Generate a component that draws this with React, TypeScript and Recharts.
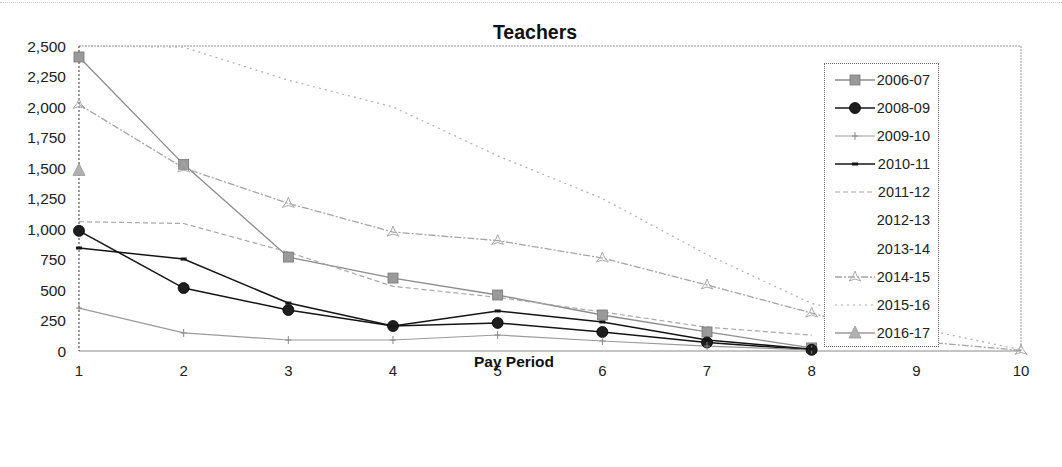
import React from "react";
import { LineChart, Line, XAxis, YAxis, ReferenceLine } from "recharts";

// values
const periods = [1, 2, 3, 4, 5, 6, 7, 8, 9, 10];
const yTicks = [0, 250, 500, 750, 1000, 1250, 1500, 1750, 2000, 2250, 2500];

const s2006 = [2410, 1530, 770, 598, 459, 295, 156, 25, null, null];
const s2008 = [985, 516, 336, 205, 230, 156, 70, 10, null, null];
const s2009 = [352, 148, 90, 90, 131, 82, 40, 10, null, null];
const s2010 = [844, 754, 393, 205, 328, 238, 90, 15, null, null];
const s2011 = [1060, 1045, 810, 530, 440, 320, 195, 130, null, null];
const s2014 = [2020, 1500, 1210, 975, 905, 762, 541, 311, 80, 5];
const s2015 = [2500, 2490, 2220, 2000, 1600, 1250, 790, 390, 190, 10];
const s2016 = [1480, null, null, null, null, null, null, null, null, null];

const legendNames = ["2006-07", "2008-09", "2009-10", "2010-11", "2011-12", "2012-13", "2013-14", "2014-15", "2015-16", "2016-17"];

type Marker = "square" | "circle" | "plus" | "dash" | "star" | "triangle" | "none";

interface Series { key: string; name: string; values: (number | null)[]; stroke: string; width: number; dash?: string; marker: Marker; mfill: string; }

const series: Series[] = [
    { key: "s2006", name: "2006-07", values: s2006, stroke: "#8c8c8c", width: 1.3, marker: "square", mfill: "#9a9a9a" },
    { key: "s2008", name: "2008-09", values: s2008, stroke: "#151515", width: 1.5, marker: "circle", mfill: "#1e1e1e" },
    { key: "s2009", name: "2009-10", values: s2009, stroke: "#9a9a9a", width: 1.2, marker: "plus", mfill: "#888" },
    { key: "s2010", name: "2010-11", values: s2010, stroke: "#141414", width: 1.5, marker: "dash", mfill: "#141414" },
    { key: "s2011", name: "2011-12", values: s2011, stroke: "#a8a8a8", width: 1.2, dash: "5 3", marker: "none", mfill: "#aaa" },
    { key: "s2014", name: "2014-15", values: s2014, stroke: "#a5a5a5", width: 1.3, dash: "7 2 2 2", marker: "star", mfill: "#aaa" },
    { key: "s2015", name: "2015-16", values: s2015, stroke: "#b0b0b0", width: 1.2, dash: "2 4", marker: "none", mfill: "#aaa" },
    { key: "s2016", name: "2016-17", values: s2016, stroke: "#9a9a9a", width: 1.3, marker: "triangle", mfill: "#b0b0b0" },
];

const rows = periods.map((p, i) => {
    const r: any = { period: p };
    series.forEach((s) => { r[s.key] = s.values[i]; });
    return r;
});

function drawMarker(kind: Marker, cx: number, cy: number, fill: string, stroke: string) {
    switch (kind) {
        case "square": return <rect x={cx - 5} y={cy - 5} width={10} height={10} fill={fill} stroke="#777" strokeWidth={0.8} />;
        case "circle": return <circle cx={cx} cy={cy} r={5.5} fill={fill} stroke="#000" strokeWidth={0.8} />;
        case "plus": return <g stroke={fill} strokeWidth={1}><line x1={cx} y1={cy - 4} x2={cx} y2={cy + 4} /><line x1={cx - 3} y1={cy} x2={cx + 3} y2={cy} /></g>;
        case "dash": return <rect x={cx - 3} y={cy - 1.5} width={6} height={3} fill={fill} />;
        case "star": return <path d={`M${cx},${cy - 6} L${cx + 2},${cy - 1} L${cx + 6},${cy + 4} L${cx},${cy + 2} L${cx - 6},${cy + 4} L${cx - 2},${cy - 1} Z`} fill="none" stroke={fill} strokeWidth={1} />;
        case "triangle": return <path d={`M${cx},${cy - 7} L${cx + 6},${cy + 5} L${cx - 6},${cy + 5} Z`} fill={fill} stroke="#999" strokeWidth={0.8} />;
        default: return null;
    }
}

const font = "'Liberation Sans', Arial, sans-serif";

function LegendBox() {
    return (
        <div style={{ position: "absolute", left: 824, top: 63, width: 115, height: 284, background: "#fff", border: "1px dotted #666", boxSizing: "border-box", paddingTop: 2, fontFamily: font, fontSize: 14.5, color: "#222" }}>
            {legendNames.map((n) => {
                const s = series.find((x) => x.name === n);
                return (
                    <div key={n} style={{ height: 28.1, position: "relative" }}>
                        {s && (
                            <svg width={44} height={28} style={{ position: "absolute", left: 8, top: 0 }}>
                                <line x1={2} y1={14} x2={42} y2={14} stroke={s.stroke} strokeWidth={s.width} strokeDasharray={s.dash} />
                                {drawMarker(s.marker, 22, 14, s.mfill, s.stroke)}
                            </svg>
                        )}
                        <span style={{ position: "absolute", right: 8, top: 5, lineHeight: "18px" }}>{n}</span>
                    </div>
                );
            })}
        </div>
    );
}

export default function App() {
    return (
        <div style={{ position: "absolute", left: 0, top: 0, width: 1062, height: 467, background: "#fff", fontFamily: font }}>
            <div style={{ position: "absolute", left: 0, top: 2, width: 1062, borderTop: "1px dotted #ccc" }} />
            <LineChart width={1062} height={467} data={rows} margin={{ top: 46, right: 41, left: 0, bottom: 86 }}>
                <XAxis type="number" dataKey="period" domain={[1, 10]} ticks={periods} axisLine={{ stroke: "#888" }} tickLine={false} tickSize={6} tickMargin={8} height={30} tick={{ fontSize: 15, fill: "#222", fontFamily: font }} />
                <YAxis type="number" domain={[0, 2500]} ticks={yTicks} width={79} axisLine={{ stroke: "#333", strokeDasharray: "2 2" }} tickLine={false} tickSize={6} tickMargin={7} tick={{ fontSize: 15.5, fill: "#222", fontFamily: font }} tickFormatter={(v: number) => v.toLocaleString("en-US")} />
                <ReferenceLine y={2500} stroke="#999" strokeDasharray="2 1" />
                <ReferenceLine x={10} stroke="#999" strokeDasharray="2 1" />
                {series.map((s) => (
                    <Line key={s.key} type="linear" dataKey={s.key} name={s.name} stroke={s.stroke} strokeWidth={s.width} strokeDasharray={s.dash} isAnimationActive={false} connectNulls={false}
                        dot={(p: any) => <g key={`${s.key}-${p.index}`}>{p.cx != null && p.cy != null && p.value != null ? drawMarker(s.marker, p.cx, p.cy, s.mfill, s.stroke) : null}</g>}
                        activeDot={false} />
                ))}
            </LineChart>
            <div style={{ position: "absolute", left: 0, width: 1070, top: 21, textAlign: "center", fontWeight: "bold", fontSize: 19.5, color: "#111" }}>Teachers</div>
            <div style={{ position: "absolute", left: 514 - 60, width: 120, top: 353, textAlign: "center", fontWeight: "bold", fontSize: 15.5, color: "#111" }}>Pay Period</div>
            <LegendBox />
        </div>
    );
}
